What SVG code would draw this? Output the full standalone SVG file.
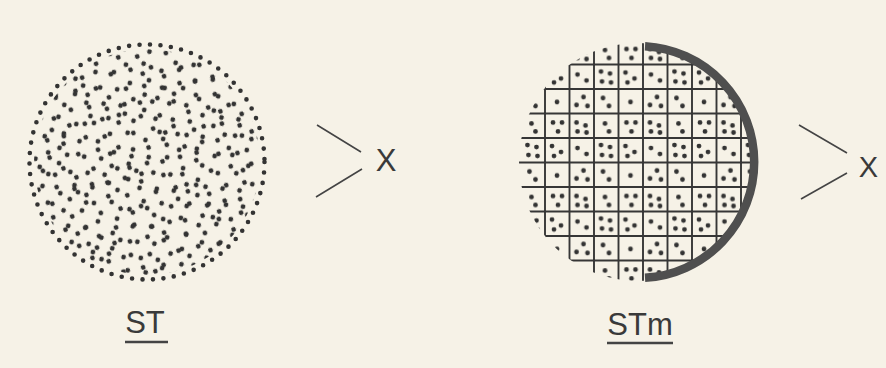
<svg xmlns="http://www.w3.org/2000/svg" width="886" height="368" viewBox="0 0 886 368">
<style>
.dots{fill:none;stroke:#333;stroke-width:4.8;stroke-linecap:round}
.ring{fill:none;stroke:#333;stroke-width:4.6;stroke-linecap:round;stroke-dasharray:0 10.5}
.grid{stroke:#363636;stroke-width:1.9;fill:none}
.arc{fill:none;stroke:#4f4f4f;stroke-width:8.5}
.conn{stroke:#444;stroke-width:1.6;fill:none}
.lbl{font-family:"Liberation Sans",Arial,sans-serif;fill:#3a3a3a}
.ul{stroke:#444;stroke-width:2.4}
</style>
<defs>
<pattern id="pa" patternUnits="userSpaceOnUse" width="71" height="71" patternTransform="translate(20,30) rotate(13)">
<path class="dots" d="M5 8h.01M22 3h.01M40 10h.01M57 5h.01M66 20h.01M12 24h.01M30 20h.01M48 27h.01M3 40h.01M20 38h.01M37 36h.01M55 42h.01M68 50h.01M10 56h.01M27 53h.01M44 51h.01M60 63h.01M17 68h.01M35 66h.01M50 58h.01M65 35h.01"/>
</pattern>
<pattern id="pb" patternUnits="userSpaceOnUse" width="59" height="63" patternTransform="translate(31,17) rotate(-21)">
<path class="dots" d="M8 6h.01M26 12h.01M44 4h.01M54 19h.01M15 22h.01M35 27h.01M4 38h.01M22 42h.01M44 40h.01M56 52h.01M12 56h.01M30 58h.01M47 60h.01M38 50h.01M25 30h.01"/>
</pattern>
<pattern id="pc" patternUnits="userSpaceOnUse" x="545" y="64.5" width="73.5" height="73.5">
<path class="dots" d="M7 8h.01M16 14h.01M9 18h.01M32.5 10h.01M41.5 16h.01M56 7h.01M65 9h.01M57 17h.01M66 18h.01M12 37.5h.01M31.5 40.5h.01M38.5 32.5h.01M42.5 41.5h.01M58 33.5h.01M64 41.5h.01M8 58h.01M17 58h.01M13 67h.01M31.5 58h.01M40.5 61h.01M32.5 67h.01M41.5 68h.01M60 59h.01M64 67h.01"/>
</pattern>
<clipPath id="cr"><circle cx="638" cy="162" r="119"/></clipPath>
</defs>
<rect width="886" height="368" fill="#f6f2e7"/>

<g id="st">
<circle cx="147" cy="162" r="113" fill="url(#pa)"/>
<circle cx="147" cy="162" r="113" fill="url(#pb)"/>
<circle class="ring" cx="147" cy="162" r="117.5"/>
</g>

<g id="stm">
<g clip-path="url(#cr)">
<rect x="515" y="38" width="250" height="250" fill="url(#pc)"/>
<path class="grid" d="M545 38V290M569.5 38V290M594 38V290M618.5 38V290M643 38V290M667.5 38V290M692 38V290M716.5 38V290M741 38V290M515 64.5H765M515 89H765M515 113.5H765M515 138H765M515 162.5H765M515 187H765M515 211.5H765M515 236H765M515 260.5H765"/>
</g>
<path class="arc" d="M645 46.2A116 116 0 0 1 645 277.8"/>
</g>

<g id="connectors">
<path class="conn" d="M317 125L361 152M362 169L316 197"/>
<path class="conn" d="M799 125L847 153M847 173L801 199"/>
</g>

<g id="x1"><text class="lbl" x="386" y="171" font-size="31" text-anchor="middle">X</text></g>
<g id="x2"><text class="lbl" x="868.5" y="177" font-size="29" text-anchor="middle">X</text></g>

<g id="label-st">
<text class="lbl" x="145" y="333" font-size="31" text-anchor="middle">ST</text>
<line class="ul" x1="125" y1="342" x2="168" y2="342"/>
</g>
<g id="label-stm">
<text class="lbl" x="640" y="335" font-size="31" text-anchor="middle">STm</text>
<line class="ul" x1="607" y1="343" x2="673" y2="343"/>
</g>
</svg>
